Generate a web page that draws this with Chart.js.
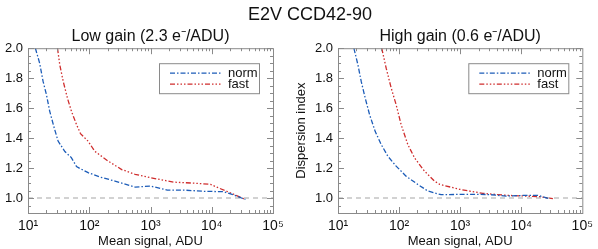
<!DOCTYPE html>
<html>
<head>
<meta charset="utf-8">
<script src="https://cdn.jsdelivr.net/npm/chart.js@4"></script>
<style>
    html, body { margin: 0; padding: 0; background: #fff; }
    #wrap { position: relative; width: 598px; height: 249px; font-family: "Liberation Sans", Arial, sans-serif; }
    #main-title { position: absolute; left: 0; top: 4px; width: 620px; text-align: center; font-size: 18px; color: #111; }
    canvas { position: absolute; top: 0; }
    #low-chart { left: 0; }
    #high-chart { left: 294px; }
</style>
</head>
<body>
<div id="wrap">
    <canvas id="low-chart" width="294" height="249"></canvas>
    <canvas id="high-chart" width="304" height="249"></canvas>
    <div id="main-title">E2V CCD42-90</div>
</div>
<script>
// axis ticks
const xTickValues = [10, 100, 1000, 10000, 100000];
const xTickLabels = ['10¹', '10²', '10³', '10⁴', '10⁵'];
const yTickValues = [1.0, 1.2, 1.4, 1.6, 1.8, 2.0];

// low gain (2.3 e-/ADU)
const lowNormX = [13.2, 15.5, 17.6, 20, 22.6, 26.7, 31, 40, 51, 62, 70.5, 96, 150, 263, 560, 989, 1870, 3480, 7400, 15800, 22900, 35400];
const lowNormY = [2.0, 1.90, 1.78, 1.69, 1.58, 1.47, 1.38, 1.31, 1.27, 1.21, 1.197, 1.169, 1.14, 1.113, 1.073, 1.08, 1.053, 1.053, 1.045, 1.042, 1.02, 0.99];
const lowFastX = [30.3, 33, 37.5, 44, 51.3, 62, 72, 96, 123, 204, 339, 562, 989, 2390, 5760, 9550, 13900, 22900, 35400];
const lowFastY = [2.0, 1.89, 1.78, 1.667, 1.578, 1.49, 1.43, 1.379, 1.312, 1.246, 1.19, 1.158, 1.136, 1.106, 1.098, 1.091, 1.062, 1.025, 0.99];

// high gain (0.6 e-/ADU)
const highNormX = [18.2, 21.2, 24, 27.9, 32.9, 40.6, 51, 65.5, 89.5, 130, 202, 295, 486, 1260, 3000, 5670, 12000, 18600, 28700];
const highNormY = [2.0, 1.889, 1.778, 1.667, 1.556, 1.445, 1.357, 1.279, 1.213, 1.146, 1.091, 1.047, 1.022, 1.025, 1.023, 1.013, 1.018, 1.018, 0.996];
const highFastX = [52, 61.5, 74.3, 89.5, 108, 139, 179, 260, 380, 462, 980, 2350, 5670, 12000, 20000, 33000];
const highFastY = [2.0, 1.867, 1.734, 1.623, 1.49, 1.357, 1.268, 1.18, 1.113, 1.091, 1.058, 1.031, 1.018, 1.013, 1.009, 0.996];

// reference level
const refX = [10, 100000];
const refY = [1.0, 1.0];

const seriesNames = ['norm', 'fast'];
const NORM_COLOR = '#1c5cb8';
const FAST_COLOR = '#cf2d2d';
const NORM_DASH = [5, 2, 1.5, 2];
const FAST_DASH = [5, 2, 1.5, 2, 1.5, 2, 1.5, 2];
const FONT = '"Liberation Sans", Arial, sans-serif';

function toPoints(xs, ys) {
    return xs.map((x, i) => ({ x: x, y: ys[i] }));
}

// frame with inward major/minor ticks on all four sides
const framePlugin = {
    id: 'frame',
    afterDraw(chart) {
        const ctx = chart.ctx;
        const a = chart.chartArea;
        const xs = chart.scales.x;
        const ys = chart.scales.y;
        ctx.save();
        ctx.strokeStyle = '#8a8a8a';
        ctx.lineWidth = 1;
        ctx.setLineDash([]);
        ctx.strokeRect(a.left + 0.5, a.top + 0.5, a.right - a.left, a.bottom - a.top);
        ctx.beginPath();
        for (let d = 10; d < 100000; d *= 10) {
            for (let m = 1; m < 10; m++) {
                const px = Math.round(xs.getPixelForValue(d * m)) + 0.5;
                const len = m === 1 ? 6 : 3;
                ctx.moveTo(px, a.bottom); ctx.lineTo(px, a.bottom - len);
                ctx.moveTo(px, a.top); ctx.lineTo(px, a.top + len);
            }
        }
        for (let i = 0; i <= 22; i++) {
            const v = 0.9 + i * 0.05;
            const py = Math.round(ys.getPixelForValue(v)) + 0.5;
            const major = Math.abs((v * 10) % 2) < 0.01 || Math.abs((v * 10) % 2 - 2) < 0.01;
            const len = major ? 6 : 3;
            ctx.moveTo(a.left, py); ctx.lineTo(a.left + len, py);
            ctx.moveTo(a.right, py); ctx.lineTo(a.right - len, py);
        }
        ctx.stroke();
        ctx.restore();
    }
};

// boxed legend in the upper right of the plot
const legendBoxPlugin = {
    id: 'legendBox',
    afterDraw(chart) {
        const ctx = chart.ctx;
        const a = chart.chartArea;
        const w = 100, h = 30;
        const bx = a.right - 14 - w;
        const by = a.top + 15;
        ctx.save();
        ctx.fillStyle = '#fff';
        ctx.fillRect(bx, by, w, h);
        ctx.strokeStyle = '#8a8a8a';
        ctx.lineWidth = 1;
        ctx.strokeRect(bx + 0.5, by + 0.5, w, h);
        const rows = [
            { name: seriesNames[0], color: NORM_COLOR, dash: NORM_DASH, y: by + 10 },
            { name: seriesNames[1], color: FAST_COLOR, dash: FAST_DASH, y: by + 21 }
        ];
        ctx.font = '13px ' + FONT;
        ctx.textBaseline = 'middle';
        rows.forEach(r => {
            ctx.strokeStyle = r.color;
            ctx.lineWidth = 1.3;
            ctx.setLineDash(r.dash);
            ctx.beginPath();
            ctx.moveTo(bx + 11, r.y);
            ctx.lineTo(bx + 62, r.y);
            ctx.stroke();
            ctx.setLineDash([]);
            ctx.fillStyle = '#111';
            ctx.fillText(r.name, bx + 69, r.y);
        });
        ctx.restore();
    }
};

function makeChart(canvasId, title, normX, normY, fastX, fastY, showYTitle, yWidth, padRight) {
    const ctx = document.getElementById(canvasId).getContext('2d');
    return new Chart(ctx, {
        type: 'line',
        data: {
            datasets: [
                {
                    label: seriesNames[0],
                    data: toPoints(normX, normY),
                    borderColor: NORM_COLOR,
                    borderWidth: 1.3,
                    borderDash: NORM_DASH,
                    pointRadius: 0,
                    tension: 0,
                    order: 1
                },
                {
                    label: seriesNames[1],
                    data: toPoints(fastX, fastY),
                    borderColor: FAST_COLOR,
                    borderWidth: 1.3,
                    borderDash: FAST_DASH,
                    pointRadius: 0,
                    tension: 0,
                    order: 1
                },
                {
                    label: 'ref',
                    data: toPoints(refX, refY),
                    borderColor: '#c4c4c4',
                    borderWidth: 1.5,
                    borderDash: [5, 4],
                    pointRadius: 0,
                    order: 5
                }
            ]
        },
        options: {
            responsive: false,
            animation: false,
            devicePixelRatio: 1,
            layout: { padding: { top: 27, right: padRight, bottom: 0, left: 0 } },
            plugins: {
                legend: { display: false },
                tooltip: { enabled: false },
                title: {
                    display: true,
                    text: title,
                    fullSize: false,
                    color: '#111',
                    font: { family: FONT, size: 16, weight: 'normal', lineHeight: 1.2 },
                    padding: { top: 0, bottom: 2 }
                }
            },
            scales: {
                x: {
                    type: 'logarithmic',
                    min: 10,
                    max: 100000,
                    afterBuildTicks: s => { s.ticks = xTickValues.map(v => ({ value: v })); },
                    afterFit: s => { s.height = 36; },
                    grid: { display: false, drawTicks: false },
                    border: { display: false },
                    ticks: {
                        autoSkip: false,
                        maxRotation: 0,
                        padding: 5,
                        color: '#111',
                        font: { family: FONT, size: 14 },
                        callback: v => {
                            const i = xTickValues.indexOf(v);
                            return i >= 0 ? xTickLabels[i] : '';
                        }
                    },
                    title: {
                        display: true,
                        text: 'Mean signal, ADU',
                        color: '#111',
                        font: { family: FONT, size: 13 },
                        padding: { top: 0, bottom: 0 }
                    }
                },
                y: {
                    min: 0.9,
                    max: 2.0,
                    afterBuildTicks: s => { s.ticks = yTickValues.map(v => ({ value: v })); },
                    afterFit: s => { s.width = yWidth; },
                    grid: { display: false, drawTicks: false },
                    border: { display: false },
                    ticks: {
                        padding: 5,
                        color: '#111',
                        font: { family: FONT, size: 13 },
                        callback: v => Number(v).toFixed(1)
                    },
                    title: {
                        display: showYTitle,
                        text: 'Dispersion index',
                        color: '#111',
                        font: { family: FONT, size: 13 },
                        padding: { top: 0, bottom: 0 }
                    }
                }
            }
        },
        plugins: [framePlugin, legendBoxPlugin]
    });
}

makeChart('low-chart', 'Low gain (2.3 e⁻/ADU)', lowNormX, lowNormY, lowFastX, lowFastY, false, 28, 21);
makeChart('high-chart', 'High gain (0.6 e⁻/ADU)', highNormX, highNormY, highFastX, highFastY, true, 44, 15);
</script>
</body>
</html>
